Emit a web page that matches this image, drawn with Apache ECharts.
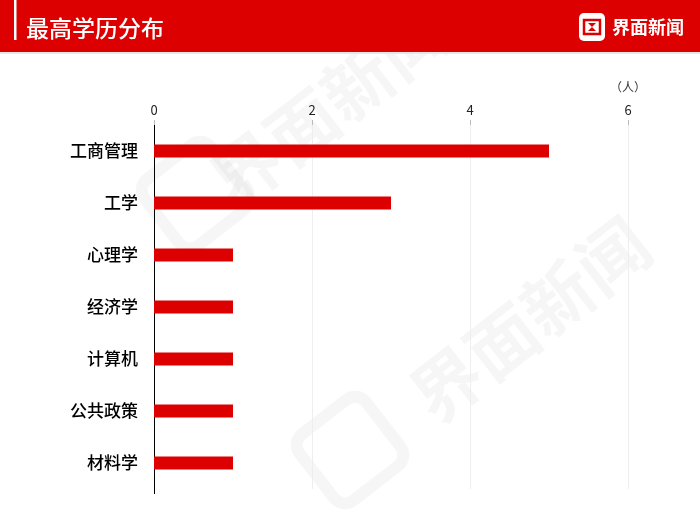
<!DOCTYPE html>
<html><head><meta charset="utf-8">
<script src="https://cdn.jsdelivr.net/npm/echarts@6/dist/echarts.min.js"></script>
<style>html,body{margin:0;padding:0;background:#fff}#c{width:700px;height:519px}</style>
</head><body><div id="c"></div>
<script>
const categories = ['工商管理','工学','心理学','经济学','计算机','公共政策','材料学'];
const values = [5,3,1,1,1,1,1];
const xTicks = [0,2,4,6];
const title = '最高学历分布';
const unit = '（人）';
const brand = '界面新闻';

const chart = echarts.init(document.getElementById('c'));
const FONT = '"Noto Sans CJK SC", "Noto Sans", sans-serif';
const wm = [];
const ang = Math.PI*0.21;
[[195,195,330,105],[350,450,530,320]].forEach(p=>{
  wm.push({type:'text',x:p[2],y:p[3],rotation:ang,z:0,silent:true,
    style:{text:brand,font:'bold 70px '+FONT,fill:'rgba(0,0,0,0.035)',align:'center',verticalAlign:'middle'}});
  wm.push({type:'rect',x:p[0],y:p[1],rotation:ang,z:0,silent:true,
    shape:{x:-42,y:-42,width:84,height:84,r:14},style:{fill:'none',stroke:'rgba(0,0,0,0.035)',lineWidth:12}});
});
chart.setOption({
  animation:false,
  grid:{left:154,top:125,width:474,height:364,containLabel:false},
  xAxis:{type:'value',position:'top',min:0,max:6,interval:2,
    axisLine:{show:false},
    axisTick:{show:true,length:5,lineStyle:{color:'#bbb'}},
    splitLine:{show:true,lineStyle:{color:'#eeeeee',width:1}},
    axisLabel:{color:'#222',fontSize:13,fontFamily:FONT,margin:8}},
  yAxis:{type:'category',inverse:true,data:categories,
    axisLine:{show:true,lineStyle:{color:'#000',width:1}},
    axisTick:{show:false},
    axisLabel:{color:'#000',fontSize:17,fontWeight:500,fontFamily:FONT,margin:16}},
  series:[{type:'bar',data:values,barWidth:13,itemStyle:{color:'#dd0000'},silent:true}],
  graphic:[
    ...wm,
    {type:'rect',shape:{x:0,y:0,width:700,height:52},style:{fill:'#dd0000'},z:10},
    {type:'rect',shape:{x:0,y:52,width:700,height:2},style:{fill:'#e6e6e6'},z:10},
    {type:'rect',shape:{x:14,y:0,width:2.5,height:40},style:{fill:'#fff'},z:11},
    {type:'text',x:26,y:28,z:11,style:{text:title,font:'500 23px '+FONT,fill:'#fff',verticalAlign:'middle'}},
    {type:'rect',shape:{x:579,y:13,width:26,height:28,r:5},style:{fill:'#fff'},z:11},
    {type:'rect',shape:{x:584,y:20,width:16,height:14},style:{fill:'none',stroke:'#dd0000',lineWidth:2.5},z:12},
    {type:'polygon',shape:{points:[[588,23],[596,23],[592,27],[596,31],[588,31],[592,27]]},style:{fill:'#dd0000'},z:12},
    {type:'text',x:612,y:27,z:11,style:{text:brand,font:'bold 18px '+FONT,fill:'#fff',verticalAlign:'middle'}},
    {type:'text',x:628,y:87,z:11,style:{text:unit,font:'12px '+FONT,fill:'#333',align:'center',verticalAlign:'middle'}},
    {type:'line',shape:{x1:154.5,y1:489,x2:154.5,y2:494},style:{stroke:'#000',lineWidth:1},z:11}
  ]
});
</script></body></html>
